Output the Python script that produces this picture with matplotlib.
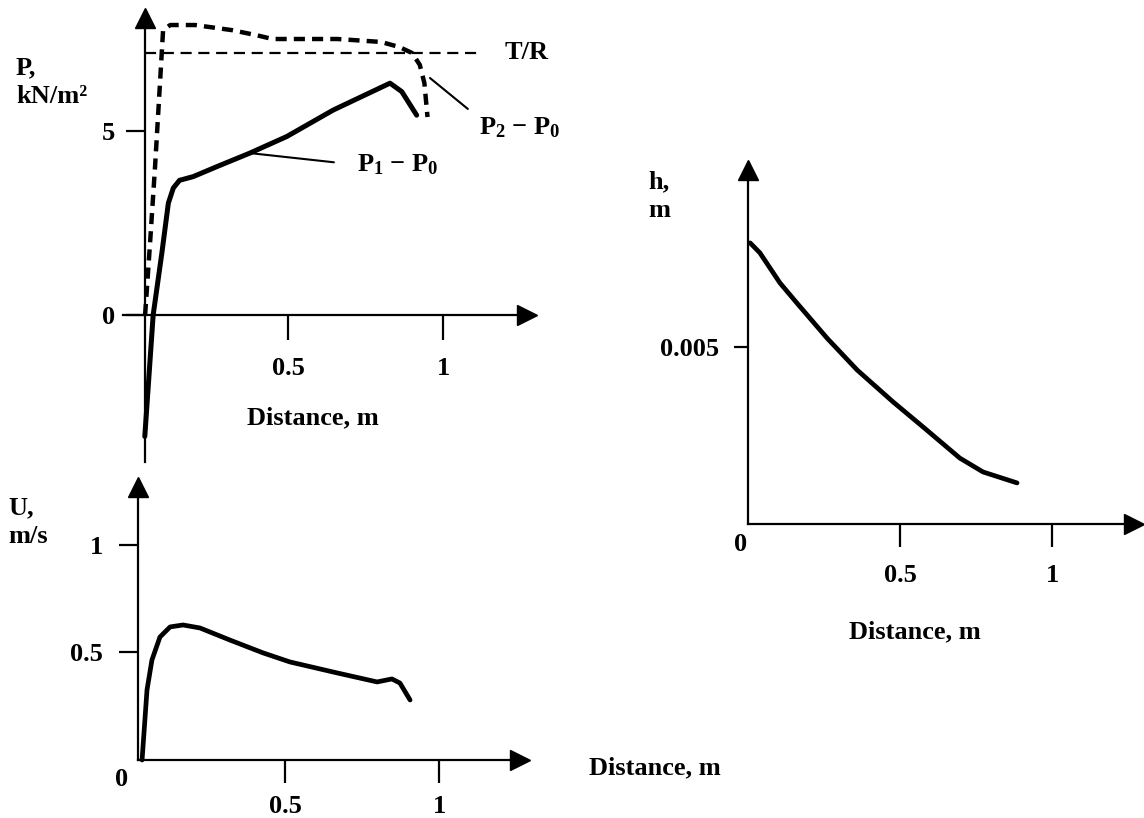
import matplotlib
matplotlib.use('Agg')
import matplotlib.pyplot as plt

plt.rcParams['font.family'] = 'Liberation Serif'
plt.rcParams['font.weight'] = 'bold'
plt.rcParams['mathtext.fontset'] = 'custom'
plt.rcParams['mathtext.rm'] = 'Liberation Serif:bold'
plt.rcParams['mathtext.it'] = 'Liberation Serif:bold'
plt.rcParams['mathtext.bf'] = 'Liberation Serif:bold'

# pressure differences, kN/m^2
p1_x = [0.038, 0.065, 0.093, 0.114, 0.130, 0.150, 0.194, 0.27, 0.377, 0.496, 0.646, 0.829, 0.867, 0.915]
p1_y = [-3.3, 0.0, 1.68, 3.04, 3.45, 3.66, 3.76, 4.03, 4.40, 4.85, 5.57, 6.30, 6.07, 5.43]
p2_x = [0.039, 0.055, 0.071, 0.087, 0.097, 0.12, 0.20, 0.32, 0.40, 0.45, 0.55, 0.66,
        0.80, 0.86, 0.90, 0.925, 0.94, 0.95]
p2_y = [0.0, 1.96, 4.02, 6.30, 7.74, 7.88, 7.88, 7.74, 7.6, 7.5, 7.5, 7.5,
        7.42, 7.28, 7.12, 6.8, 6.3, 5.38]
tr_level = 7.12
tr_x = [0.04, 1.12]

# velocity, m/s
u_x = [0.036, 0.052, 0.068, 0.094, 0.127, 0.169, 0.224, 0.321, 0.429, 0.516,
       0.669, 0.799, 0.847, 0.873, 0.906]
u_y = [0.0, 0.326, 0.465, 0.572, 0.619, 0.628, 0.614, 0.558, 0.498, 0.456,
       0.405, 0.363, 0.377, 0.358, 0.279]

# depth, m
h_x = [0.007, 0.039, 0.105, 0.161, 0.260, 0.359, 0.477, 0.576, 0.697, 0.773, 0.885]
h_y = [0.00794, 0.00766, 0.00681, 0.00624, 0.00525, 0.00435, 0.00345, 0.00274,
       0.00186, 0.00147, 0.00116]

W, H = 1144, 818
FS = 19
fig = plt.figure(figsize=(W / 100, H / 100), dpi=100)


def add_panel(left, right, top, bottom, xlim, ylim):
    ax = fig.add_axes([left / W, 1 - bottom / H, (right - left) / W, (bottom - top) / H])
    ax.set_xlim(*xlim)
    ax.set_ylim(*ylim)
    ax.patch.set_visible(False)
    return ax


def draw_axes(ax, x_at, y_at, xspan, yspan):
    for s in ['top', 'right']:
        ax.spines[s].set_visible(False)
    ax.spines['left'].set_position(('data', x_at))
    ax.spines['bottom'].set_position(('data', y_at))
    ax.spines['left'].set_bounds(*yspan)
    ax.spines['bottom'].set_bounds(*xspan)
    for s in ['left', 'bottom']:
        ax.spines[s].set_linewidth(1.6)
    ax.plot(xspan[1], y_at, marker='>', ms=15, color='k', clip_on=False)
    ax.plot(x_at, yspan[1], marker='^', ms=15, color='k', clip_on=False)


# ---- top left: pressure
ax1 = add_panel(100, 560, 0, 470, (-0.1065, 1.3774), (-4.212, 8.56))
draw_axes(ax1, 0.04, 0, (-0.032, 1.27), (-4.0, 8.07))
ax1.set_xticks([0.5, 1], ['0.5', '1'])
ax1.set_yticks([0, 5], ['0', '5'])
ax1.tick_params(axis='x', length=18, width=1.6, pad=12, labelsize=19)
ax1.tick_params(axis='y', length=14, width=1.6, pad=8, labelsize=19)
ax1.plot(tr_x, [tr_level, tr_level], color='k', lw=1.6, ls=(0, (5, 3)))
ax1.plot(p2_x, p2_y, color='k', lw=3.2, ls=(0, (2.5, 1.6)))
ax1.plot(p1_x, p1_y, color='k', lw=3.6, solid_capstyle='round', solid_joinstyle='round')
ax1.text(1.27, tr_level, 'T/R', fontsize=FS, ha='center', va='center')
ax1.annotate('P$_1$ − P$_0$', xy=(p1_x[8], p1_y[8]), xytext=(0.855, 4.08),
             fontsize=FS, ha='center', va='center',
             arrowprops=dict(arrowstyle='-', lw=1.5, color='k', relpos=(0, 0.5),
                             shrinkA=15, shrinkB=0))
ax1.annotate('P$_2$ − P$_0$', xy=(0.958, 6.44), xytext=(1.248, 5.08),
             fontsize=FS, ha='center', va='center',
             arrowprops=dict(arrowstyle='-', lw=1.5, color='k', relpos=(0, 0.9),
                             shrinkA=8, shrinkB=0))
ax1.text(0.58, -2.8, 'Distance, m', fontsize=FS, ha='center', va='center')
fig.text(16 / W, 1 - 82 / H, 'P,\nkN/m²', fontsize=FS, ha='left', va='center',
         linespacing=1.3)

# ---- bottom left: velocity
ax2 = add_panel(100, 740, 460, 810, (-0.1006, 1.977), (-0.2326, 1.3953))
draw_axes(ax2, 0.023, 0, (0.023, 1.263), (0, 1.27))
ax2.set_xticks([0.5, 1], ['0.5', '1'])
ax2.set_yticks([0.5, 1], ['0.5', '1'])
ax2.tick_params(axis='x', length=16.5, width=1.6, pad=9, labelsize=19)
ax2.tick_params(axis='y', length=14, width=1.6, pad=11, labelsize=19)
ax2.plot(u_x, u_y, color='k', lw=3.4, solid_capstyle='round', solid_joinstyle='round')
ax2.text(-0.03, -0.093, '0', fontsize=19, ha='center', va='center')
ax2.text(1.487, -0.037, 'Distance, m', fontsize=FS, ha='left', va='center')
fig.text(8 / W, 1 - 522 / H, 'U,\nm/s', fontsize=FS, ha='left', va='center',
         linespacing=1.3)

# ---- right: depth
ax3 = add_panel(640, 1144, 140, 660, (-0.3553, 1.3026), (-0.003842, 0.010847))
draw_axes(ax3, 0, 0, (0, 1.27), (0, 0.0100))
ax3.set_xticks([0.5, 1], ['0.5', '1'])
ax3.set_yticks([0.005], ['0.005'])
ax3.tick_params(axis='x', length=16.5, width=1.6, pad=12, labelsize=19)
ax3.tick_params(axis='y', length=10, width=1.6, pad=11, labelsize=19)
ax3.plot(h_x, h_y, color='k', lw=3.4, solid_capstyle='round', solid_joinstyle='round')
ax3.text(-0.026, -0.00059, '0', fontsize=19, ha='center', va='center')
ax3.text(0.549, -0.00305, 'Distance, m', fontsize=FS, ha='center', va='center')
fig.text(648 / W, 1 - 196 / H, 'h,\nm', fontsize=FS, ha='left', va='center',
         linespacing=1.3)

fig.savefig('out.png', dpi=100)
